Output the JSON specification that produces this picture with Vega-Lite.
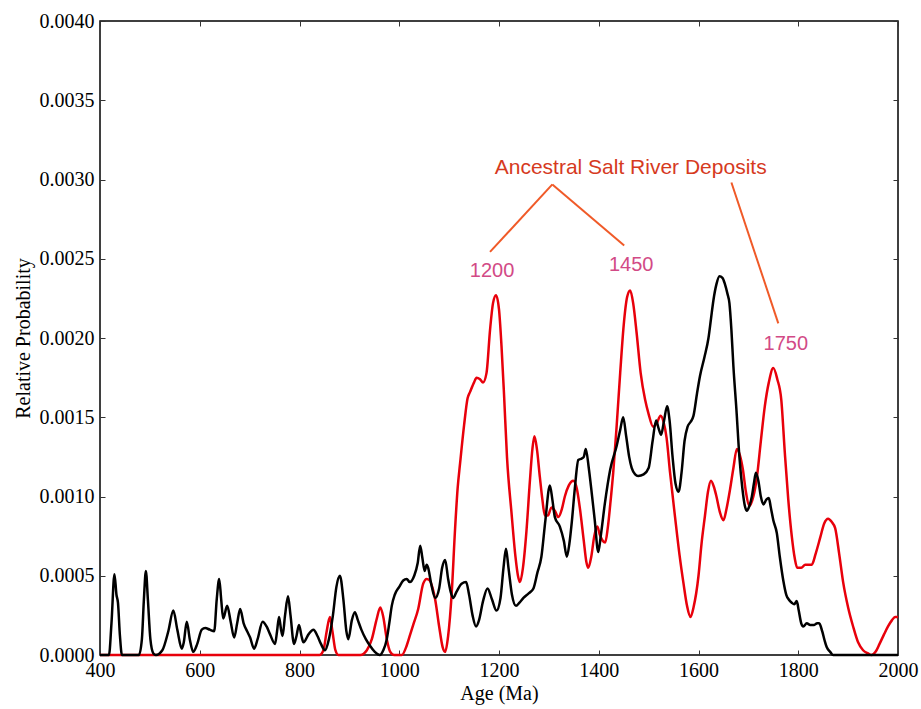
{
  "$schema": "https://vega.github.io/schema/vega-lite/v6.json",
  "width": 798,
  "height": 634,
  "autosize": {"type": "none"},
  "padding": {"left": 100, "top": 21, "right": 23, "bottom": 54},
  "background": "white",
  "config": {
    "view": {"stroke": "#000", "strokeWidth": 1.5},
    "axis": {
      "labelFont": "Liberation Serif",
      "titleFont": "Liberation Serif",
      "labelFontSize": 20,
      "titleFontSize": 20,
      "titleFontWeight": "normal",
      "labelColor": "#000",
      "titleColor": "#000",
      "labelFlush": false,
      "labelOverlap": false,
      "domain": false,
      "grid": false,
      "tickColor": "#333",
      "tickSize": -5,
      "tickWidth": 1
    }
  },
  "datasets": {
    "curves": [
      {"age":400,"p":0,"s":"red"},{"age":840,"p":0,"s":"red"},{"age":848,"p":0.00003,"s":"red"},{"age":854,"p":0.00014,"s":"red"},{"age":861,"p":0.00024,"s":"red"},{"age":866,"p":0.00015,"s":"red"},{"age":872,"p":0.00003,"s":"red"},{"age":878,"p":0,"s":"red"},{"age":922,"p":0,"s":"red"},{"age":935,"p":0.00003,"s":"red"},{"age":945,"p":0.0001,"s":"red"},{"age":955,"p":0.00023,"s":"red"},{"age":962,"p":0.0003,"s":"red"},{"age":968,"p":0.00024,"s":"red"},{"age":975,"p":0.0001,"s":"red"},{"age":982,"p":0.00002,"s":"red"},{"age":990,"p":0,"s":"red"},{"age":1005,"p":0,"s":"red"},{"age":1015,"p":0.00006,"s":"red"},{"age":1022,"p":0.00013,"s":"red"},{"age":1028,"p":0.00019,"s":"red"},{"age":1038,"p":0.00029,"s":"red"},{"age":1048,"p":0.00045,"s":"red"},{"age":1055,"p":0.00048,"s":"red"},{"age":1061,"p":0.00047,"s":"red"},{"age":1067,"p":0.00042,"s":"red"},{"age":1072,"p":0.00035,"s":"red"},{"age":1080,"p":0.00018,"s":"red"},{"age":1087,"p":0.00005,"s":"red"},{"age":1092,"p":0.00002,"s":"red"},{"age":1098,"p":0.00012,"s":"red"},{"age":1105,"p":0.00038,"s":"red"},{"age":1112,"p":0.0008,"s":"red"},{"age":1117,"p":0.00105,"s":"red"},{"age":1122,"p":0.00121,"s":"red"},{"age":1130,"p":0.00145,"s":"red"},{"age":1137,"p":0.00162,"s":"red"},{"age":1142,"p":0.00166,"s":"red"},{"age":1150,"p":0.00172,"s":"red"},{"age":1155,"p":0.00175,"s":"red"},{"age":1162,"p":0.00174,"s":"red"},{"age":1168,"p":0.00172,"s":"red"},{"age":1175,"p":0.00178,"s":"red"},{"age":1182,"p":0.00205,"s":"red"},{"age":1188,"p":0.00222,"s":"red"},{"age":1194,"p":0.00227,"s":"red"},{"age":1200,"p":0.00218,"s":"red"},{"age":1205,"p":0.00195,"s":"red"},{"age":1210,"p":0.00165,"s":"red"},{"age":1216,"p":0.00125,"s":"red"},{"age":1225,"p":0.0009,"s":"red"},{"age":1233,"p":0.00062,"s":"red"},{"age":1238,"p":0.0005,"s":"red"},{"age":1242,"p":0.00046,"s":"red"},{"age":1248,"p":0.00055,"s":"red"},{"age":1255,"p":0.00078,"s":"red"},{"age":1262,"p":0.0011,"s":"red"},{"age":1267,"p":0.0013,"s":"red"},{"age":1271,"p":0.00138,"s":"red"},{"age":1276,"p":0.0013,"s":"red"},{"age":1282,"p":0.00112,"s":"red"},{"age":1287,"p":0.00098,"s":"red"},{"age":1292,"p":0.00088,"s":"red"},{"age":1298,"p":0.00088,"s":"red"},{"age":1305,"p":0.00093,"s":"red"},{"age":1312,"p":0.00091,"s":"red"},{"age":1319,"p":0.00087,"s":"red"},{"age":1326,"p":0.00092,"s":"red"},{"age":1332,"p":0.001,"s":"red"},{"age":1340,"p":0.00107,"s":"red"},{"age":1349,"p":0.0011,"s":"red"},{"age":1356,"p":0.00105,"s":"red"},{"age":1362,"p":0.00093,"s":"red"},{"age":1370,"p":0.00072,"s":"red"},{"age":1375,"p":0.00059,"s":"red"},{"age":1379,"p":0.00055,"s":"red"},{"age":1385,"p":0.00062,"s":"red"},{"age":1391,"p":0.00075,"s":"red"},{"age":1397,"p":0.00081,"s":"red"},{"age":1402,"p":0.00076,"s":"red"},{"age":1408,"p":0.00072,"s":"red"},{"age":1413,"p":0.00071,"s":"red"},{"age":1418,"p":0.0008,"s":"red"},{"age":1424,"p":0.00098,"s":"red"},{"age":1429,"p":0.00115,"s":"red"},{"age":1436,"p":0.00145,"s":"red"},{"age":1443,"p":0.00178,"s":"red"},{"age":1450,"p":0.00208,"s":"red"},{"age":1457,"p":0.00226,"s":"red"},{"age":1463,"p":0.0023,"s":"red"},{"age":1469,"p":0.00222,"s":"red"},{"age":1476,"p":0.00203,"s":"red"},{"age":1484,"p":0.00178,"s":"red"},{"age":1493,"p":0.00161,"s":"red"},{"age":1500,"p":0.00152,"s":"red"},{"age":1509,"p":0.00144,"s":"red"},{"age":1516,"p":0.00146,"s":"red"},{"age":1524,"p":0.00151,"s":"red"},{"age":1530,"p":0.00147,"s":"red"},{"age":1536,"p":0.00137,"s":"red"},{"age":1543,"p":0.00115,"s":"red"},{"age":1553,"p":0.00087,"s":"red"},{"age":1562,"p":0.00063,"s":"red"},{"age":1570,"p":0.00045,"s":"red"},{"age":1577,"p":0.00031,"s":"red"},{"age":1584,"p":0.00024,"s":"red"},{"age":1590,"p":0.0003,"s":"red"},{"age":1600,"p":0.0005,"s":"red"},{"age":1606,"p":0.0007,"s":"red"},{"age":1613,"p":0.00088,"s":"red"},{"age":1619,"p":0.00103,"s":"red"},{"age":1625,"p":0.0011,"s":"red"},{"age":1631,"p":0.00106,"s":"red"},{"age":1636,"p":0.001,"s":"red"},{"age":1643,"p":0.0009,"s":"red"},{"age":1650,"p":0.00085,"s":"red"},{"age":1656,"p":0.00092,"s":"red"},{"age":1663,"p":0.00104,"s":"red"},{"age":1670,"p":0.00118,"s":"red"},{"age":1677,"p":0.0013,"s":"red"},{"age":1683,"p":0.00126,"s":"red"},{"age":1689,"p":0.00117,"s":"red"},{"age":1695,"p":0.00103,"s":"red"},{"age":1702,"p":0.00094,"s":"red"},{"age":1710,"p":0.001,"s":"red"},{"age":1717,"p":0.00112,"s":"red"},{"age":1725,"p":0.00135,"s":"red"},{"age":1733,"p":0.00157,"s":"red"},{"age":1741,"p":0.00172,"s":"red"},{"age":1750,"p":0.00181,"s":"red"},{"age":1758,"p":0.00174,"s":"red"},{"age":1766,"p":0.00161,"s":"red"},{"age":1773,"p":0.00128,"s":"red"},{"age":1780,"p":0.00098,"s":"red"},{"age":1787,"p":0.00075,"s":"red"},{"age":1793,"p":0.00061,"s":"red"},{"age":1798,"p":0.00055,"s":"red"},{"age":1806,"p":0.00055,"s":"red"},{"age":1814,"p":0.00057,"s":"red"},{"age":1821,"p":0.00057,"s":"red"},{"age":1827,"p":0.00057,"s":"red"},{"age":1835,"p":0.00064,"s":"red"},{"age":1844,"p":0.00074,"s":"red"},{"age":1852,"p":0.00083,"s":"red"},{"age":1860,"p":0.00086,"s":"red"},{"age":1867,"p":0.00084,"s":"red"},{"age":1874,"p":0.0008,"s":"red"},{"age":1882,"p":0.00064,"s":"red"},{"age":1890,"p":0.00046,"s":"red"},{"age":1900,"p":0.0003,"s":"red"},{"age":1910,"p":0.00018,"s":"red"},{"age":1920,"p":0.00008,"s":"red"},{"age":1930,"p":0.00003,"s":"red"},{"age":1940,"p":0.00001,"s":"red"},{"age":1947,"p":0,"s":"red"},{"age":1955,"p":0.00002,"s":"red"},{"age":1963,"p":0.00007,"s":"red"},{"age":1972,"p":0.00013,"s":"red"},{"age":1980,"p":0.00018,"s":"red"},{"age":1988,"p":0.00022,"s":"red"},{"age":1994,"p":0.00024,"s":"red"},{"age":2000,"p":0.00024,"s":"red"},
      {"age":400,"p":0,"s":"black"},{"age":418,"p":0,"s":"black"},{"age":423,"p":0.0002,"s":"black"},{"age":429,"p":0.00051,"s":"black"},{"age":433,"p":0.00038,"s":"black"},{"age":436,"p":0.00033,"s":"black"},{"age":440,"p":0.00012,"s":"black"},{"age":444,"p":0,"s":"black"},{"age":478,"p":0,"s":"black"},{"age":484,"p":0.0001,"s":"black"},{"age":488,"p":0.00035,"s":"black"},{"age":492,"p":0.00053,"s":"black"},{"age":496,"p":0.00035,"s":"black"},{"age":501,"p":0.0001,"s":"black"},{"age":507,"p":0.00001,"s":"black"},{"age":512,"p":0,"s":"black"},{"age":525,"p":0.00003,"s":"black"},{"age":537,"p":0.00015,"s":"black"},{"age":547,"p":0.00028,"s":"black"},{"age":555,"p":0.00016,"s":"black"},{"age":564,"p":0.00004,"s":"black"},{"age":568,"p":0.00008,"s":"black"},{"age":574,"p":0.00021,"s":"black"},{"age":580,"p":0.0001,"s":"black"},{"age":587,"p":0.00002,"s":"black"},{"age":595,"p":0.00007,"s":"black"},{"age":604,"p":0.00016,"s":"black"},{"age":611,"p":0.00017,"s":"black"},{"age":620,"p":0.00016,"s":"black"},{"age":629,"p":0.00015,"s":"black"},{"age":634,"p":0.00035,"s":"black"},{"age":639,"p":0.00048,"s":"black"},{"age":643,"p":0.00035,"s":"black"},{"age":647,"p":0.00023,"s":"black"},{"age":655,"p":0.00031,"s":"black"},{"age":662,"p":0.00021,"s":"black"},{"age":669,"p":0.00011,"s":"black"},{"age":675,"p":0.0002,"s":"black"},{"age":681,"p":0.00029,"s":"black"},{"age":688,"p":0.0002,"s":"black"},{"age":695,"p":0.00015,"s":"black"},{"age":701,"p":0.00011,"s":"black"},{"age":709,"p":0.00004,"s":"black"},{"age":716,"p":0.0001,"s":"black"},{"age":726,"p":0.00021,"s":"black"},{"age":734,"p":0.00018,"s":"black"},{"age":741,"p":0.00013,"s":"black"},{"age":751,"p":0.00007,"s":"black"},{"age":755,"p":0.00015,"s":"black"},{"age":759,"p":0.00024,"s":"black"},{"age":763,"p":0.00016,"s":"black"},{"age":766,"p":0.00012,"s":"black"},{"age":771,"p":0.00025,"s":"black"},{"age":777,"p":0.00037,"s":"black"},{"age":782,"p":0.00025,"s":"black"},{"age":789,"p":0.00007,"s":"black"},{"age":794,"p":0.00012,"s":"black"},{"age":799,"p":0.00019,"s":"black"},{"age":804,"p":0.00012,"s":"black"},{"age":808,"p":0.00008,"s":"black"},{"age":818,"p":0.00013,"s":"black"},{"age":828,"p":0.00016,"s":"black"},{"age":836,"p":0.00012,"s":"black"},{"age":843,"p":0.00007,"s":"black"},{"age":851,"p":0.00003,"s":"black"},{"age":859,"p":0.0001,"s":"black"},{"age":867,"p":0.00025,"s":"black"},{"age":874,"p":0.00043,"s":"black"},{"age":881,"p":0.0005,"s":"black"},{"age":888,"p":0.00035,"s":"black"},{"age":894,"p":0.00015,"s":"black"},{"age":898,"p":0.0001,"s":"black"},{"age":905,"p":0.00022,"s":"black"},{"age":911,"p":0.00027,"s":"black"},{"age":917,"p":0.00022,"s":"black"},{"age":924,"p":0.00016,"s":"black"},{"age":933,"p":0.0001,"s":"black"},{"age":941,"p":0.00006,"s":"black"},{"age":951,"p":0.00002,"s":"black"},{"age":961,"p":0,"s":"black"},{"age":968,"p":0.00003,"s":"black"},{"age":975,"p":0.0001,"s":"black"},{"age":980,"p":0.0002,"s":"black"},{"age":985,"p":0.00031,"s":"black"},{"age":991,"p":0.00038,"s":"black"},{"age":1000,"p":0.00043,"s":"black"},{"age":1008,"p":0.00047,"s":"black"},{"age":1015,"p":0.00048,"s":"black"},{"age":1021,"p":0.00046,"s":"black"},{"age":1030,"p":0.0005,"s":"black"},{"age":1037,"p":0.00058,"s":"black"},{"age":1042,"p":0.00069,"s":"black"},{"age":1046,"p":0.00062,"s":"black"},{"age":1051,"p":0.00053,"s":"black"},{"age":1055,"p":0.00057,"s":"black"},{"age":1058,"p":0.00055,"s":"black"},{"age":1064,"p":0.00045,"s":"black"},{"age":1072,"p":0.00036,"s":"black"},{"age":1080,"p":0.00042,"s":"black"},{"age":1086,"p":0.00055,"s":"black"},{"age":1092,"p":0.0006,"s":"black"},{"age":1098,"p":0.00048,"s":"black"},{"age":1103,"p":0.0004,"s":"black"},{"age":1108,"p":0.00036,"s":"black"},{"age":1115,"p":0.0004,"s":"black"},{"age":1125,"p":0.00045,"s":"black"},{"age":1134,"p":0.00046,"s":"black"},{"age":1140,"p":0.00038,"s":"black"},{"age":1147,"p":0.00025,"s":"black"},{"age":1154,"p":0.00018,"s":"black"},{"age":1160,"p":0.00022,"s":"black"},{"age":1168,"p":0.00034,"s":"black"},{"age":1177,"p":0.00042,"s":"black"},{"age":1186,"p":0.00035,"s":"black"},{"age":1195,"p":0.00028,"s":"black"},{"age":1203,"p":0.00036,"s":"black"},{"age":1209,"p":0.00055,"s":"black"},{"age":1214,"p":0.00067,"s":"black"},{"age":1219,"p":0.00055,"s":"black"},{"age":1226,"p":0.00038,"s":"black"},{"age":1234,"p":0.00031,"s":"black"},{"age":1241,"p":0.00033,"s":"black"},{"age":1249,"p":0.00036,"s":"black"},{"age":1260,"p":0.00039,"s":"black"},{"age":1269,"p":0.00042,"s":"black"},{"age":1277,"p":0.00052,"s":"black"},{"age":1285,"p":0.00062,"s":"black"},{"age":1293,"p":0.00085,"s":"black"},{"age":1302,"p":0.00107,"s":"black"},{"age":1307,"p":0.00098,"s":"black"},{"age":1312,"p":0.00087,"s":"black"},{"age":1322,"p":0.00081,"s":"black"},{"age":1330,"p":0.00072,"s":"black"},{"age":1336,"p":0.00062,"s":"black"},{"age":1341,"p":0.0007,"s":"black"},{"age":1346,"p":0.00084,"s":"black"},{"age":1352,"p":0.00105,"s":"black"},{"age":1359,"p":0.00123,"s":"black"},{"age":1366,"p":0.00124,"s":"black"},{"age":1370,"p":0.00125,"s":"black"},{"age":1374,"p":0.0013,"s":"black"},{"age":1380,"p":0.00118,"s":"black"},{"age":1386,"p":0.00102,"s":"black"},{"age":1392,"p":0.00085,"s":"black"},{"age":1399,"p":0.00065,"s":"black"},{"age":1404,"p":0.00075,"s":"black"},{"age":1412,"p":0.00095,"s":"black"},{"age":1423,"p":0.00117,"s":"black"},{"age":1436,"p":0.00132,"s":"black"},{"age":1443,"p":0.00142,"s":"black"},{"age":1449,"p":0.0015,"s":"black"},{"age":1455,"p":0.00138,"s":"black"},{"age":1461,"p":0.00125,"s":"black"},{"age":1466,"p":0.00118,"s":"black"},{"age":1473,"p":0.00114,"s":"black"},{"age":1479,"p":0.00113,"s":"black"},{"age":1490,"p":0.00114,"s":"black"},{"age":1500,"p":0.00118,"s":"black"},{"age":1508,"p":0.00135,"s":"black"},{"age":1515,"p":0.00148,"s":"black"},{"age":1520,"p":0.00143,"s":"black"},{"age":1525,"p":0.00139,"s":"black"},{"age":1531,"p":0.00148,"s":"black"},{"age":1537,"p":0.00157,"s":"black"},{"age":1542,"p":0.00148,"s":"black"},{"age":1548,"p":0.00125,"s":"black"},{"age":1554,"p":0.00108,"s":"black"},{"age":1560,"p":0.00103,"s":"black"},{"age":1566,"p":0.00115,"s":"black"},{"age":1572,"p":0.00135,"s":"black"},{"age":1578,"p":0.00144,"s":"black"},{"age":1584,"p":0.00147,"s":"black"},{"age":1590,"p":0.00151,"s":"black"},{"age":1597,"p":0.00165,"s":"black"},{"age":1603,"p":0.00176,"s":"black"},{"age":1612,"p":0.00188,"s":"black"},{"age":1620,"p":0.002,"s":"black"},{"age":1625,"p":0.00212,"s":"black"},{"age":1630,"p":0.00224,"s":"black"},{"age":1636,"p":0.00234,"s":"black"},{"age":1642,"p":0.00239,"s":"black"},{"age":1648,"p":0.00238,"s":"black"},{"age":1653,"p":0.00234,"s":"black"},{"age":1658,"p":0.00228,"s":"black"},{"age":1662,"p":0.00222,"s":"black"},{"age":1666,"p":0.00205,"s":"black"},{"age":1670,"p":0.00182,"s":"black"},{"age":1676,"p":0.00155,"s":"black"},{"age":1682,"p":0.00125,"s":"black"},{"age":1688,"p":0.00105,"s":"black"},{"age":1693,"p":0.00094,"s":"black"},{"age":1697,"p":0.00091,"s":"black"},{"age":1702,"p":0.00094,"s":"black"},{"age":1707,"p":0.001,"s":"black"},{"age":1711,"p":0.00108,"s":"black"},{"age":1715,"p":0.00115,"s":"black"},{"age":1720,"p":0.0011,"s":"black"},{"age":1725,"p":0.001,"s":"black"},{"age":1730,"p":0.00095,"s":"black"},{"age":1736,"p":0.00098,"s":"black"},{"age":1741,"p":0.00099,"s":"black"},{"age":1745,"p":0.00093,"s":"black"},{"age":1750,"p":0.00085,"s":"black"},{"age":1757,"p":0.00077,"s":"black"},{"age":1763,"p":0.00062,"s":"black"},{"age":1770,"p":0.00047,"s":"black"},{"age":1776,"p":0.00038,"s":"black"},{"age":1781,"p":0.00035,"s":"black"},{"age":1787,"p":0.00033,"s":"black"},{"age":1792,"p":0.00032,"s":"black"},{"age":1797,"p":0.00034,"s":"black"},{"age":1801,"p":0.00028,"s":"black"},{"age":1806,"p":0.0002,"s":"black"},{"age":1810,"p":0.00018,"s":"black"},{"age":1817,"p":0.0002,"s":"black"},{"age":1824,"p":0.00019,"s":"black"},{"age":1832,"p":0.00019,"s":"black"},{"age":1838,"p":0.0002,"s":"black"},{"age":1842,"p":0.0002,"s":"black"},{"age":1848,"p":0.00015,"s":"black"},{"age":1853,"p":0.00009,"s":"black"},{"age":1857,"p":0.00005,"s":"black"},{"age":1864,"p":0.00002,"s":"black"},{"age":1870,"p":0,"s":"black"},{"age":2000,"p":0,"s":"black"}
    ],
    "headline": [{"age": 1464, "p": 0.003071, "label": "Ancestral Salt River Deposits"}],
    "links": [
      {"age": 1307, "p": 0.002969, "age2": 1182, "p2": 0.002543},
      {"age": 1307, "p": 0.002969, "age2": 1451, "p2": 0.002584},
      {"age": 1666, "p": 0.002981, "age2": 1760, "p2": 0.002092}
    ],
    "peaks": [
      {"age": 1186, "p": 0.00242, "label": "1200"},
      {"age": 1465, "p": 0.002458, "label": "1450"},
      {"age": 1775, "p": 0.001962, "label": "1750"}
    ]
  },
  "layer": [
    {
      "data": {"name": "curves"},
      "mark": {"type": "line", "interpolate": "monotone", "strokeWidth": 2.5},
      "encoding": {
        "x": {"field": "age", "type": "quantitative", "scale": {"domain": [400, 2000], "nice": false},
              "axis": {"orient": "bottom", "title": "Age (Ma)", "values": [400,600,800,1000,1200,1400,1600,1800,2000], "format": "d", "labelPadding": 10, "titlePadding": 3}},
        "y": {"field": "p", "type": "quantitative", "scale": {"domain": [0, 0.004], "nice": false, "zero": false},
              "axis": {"orient": "left", "title": "Relative Probability", "values": [0,0.0005,0.001,0.0015,0.002,0.0025,0.003,0.0035,0.004], "format": ".4f", "labelPadding": 11, "titlePadding": 6}},
        "color": {"field": "s", "type": "nominal", "scale": {"domain": ["red", "black"], "range": ["#e8000b", "#000000"]}, "legend": null}
      }
    },
    {
      "data": {"name": "curves"},
      "mark": {"type": "point", "opacity": 0},
      "encoding": {
        "x": {"field": "age", "type": "quantitative", "scale": {"domain": [400, 2000], "nice": false},
              "axis": {"orient": "top", "title": null, "labels": false, "values": [400,600,800,1000,1200,1400,1600,1800,2000]}},
        "y": {"field": "p", "type": "quantitative", "scale": {"domain": [0, 0.004], "nice": false, "zero": false},
              "axis": {"orient": "right", "title": null, "labels": false, "values": [0,0.0005,0.001,0.0015,0.002,0.0025,0.003,0.0035,0.004]}}
      }
    },
    {
      "data": {"name": "links"},
      "mark": {"type": "rule", "color": "#f05a28", "strokeWidth": 2},
      "encoding": {
        "x": {"field": "age", "type": "quantitative", "scale": {"domain": [400, 2000], "nice": false}, "axis": null},
        "y": {"field": "p", "type": "quantitative", "scale": {"domain": [0, 0.004], "nice": false, "zero": false}, "axis": null},
        "x2": {"field": "age2"},
        "y2": {"field": "p2"}
      }
    },
    {
      "data": {"name": "headline"},
      "mark": {"type": "text", "font": "Liberation Sans", "fontSize": 21, "color": "#d63a1e", "align": "center", "baseline": "middle"},
      "encoding": {
        "x": {"field": "age", "type": "quantitative", "scale": {"domain": [400, 2000], "nice": false}, "axis": null},
        "y": {"field": "p", "type": "quantitative", "scale": {"domain": [0, 0.004], "nice": false, "zero": false}, "axis": null},
        "text": {"field": "label"}
      }
    },
    {
      "data": {"name": "peaks"},
      "mark": {"type": "text", "font": "Liberation Sans", "fontSize": 20, "color": "#d24a86", "align": "center", "baseline": "middle"},
      "encoding": {
        "x": {"field": "age", "type": "quantitative", "scale": {"domain": [400, 2000], "nice": false}, "axis": null},
        "y": {"field": "p", "type": "quantitative", "scale": {"domain": [0, 0.004], "nice": false, "zero": false}, "axis": null},
        "text": {"field": "label"}
      }
    }
  ],
  "resolve": {"axis": {"x": "independent", "y": "independent"}}
}
